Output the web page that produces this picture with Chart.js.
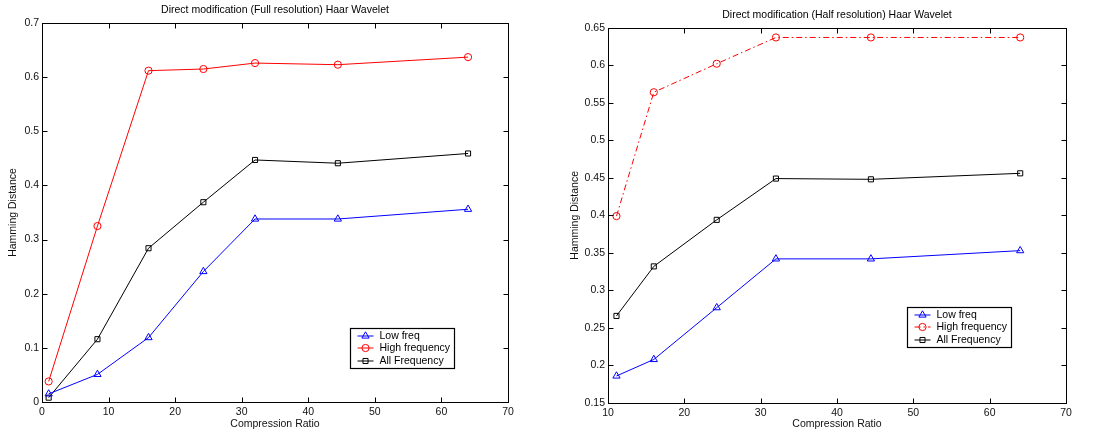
<!DOCTYPE html>
<html><head><meta charset="utf-8">
<script src="https://cdn.jsdelivr.net/npm/chart.js@4/dist/chart.umd.min.js"></script>
<style>
html,body{margin:0;padding:0;background:#fff;overflow:hidden;}
#w1{position:absolute;left:0;top:0;width:545px;height:435px;}
#w2{position:absolute;left:545px;top:0;width:548px;height:435px;}
</style></head><body>
<div id="w1"><canvas id="c1" width="545" height="435"></canvas></div>
<div id="w2"><canvas id="c2" width="548" height="435"></canvas></div>
<script>
// ---- data ----
const fullRatios = [1, 8.33, 16, 24.24, 32, 44.44, 64];
const fullLow  = [0.015, 0.051, 0.119, 0.241, 0.338, 0.338, 0.356];
const fullHigh = [0.038, 0.325, 0.612, 0.615, 0.626, 0.623, 0.637];
const fullAll  = [0.008, 0.116, 0.284, 0.369, 0.447, 0.441, 0.459];

const halfRatios = [11.11, 16, 24.24, 32, 44.44, 64];
const halfLow  = [0.186, 0.208, 0.277, 0.342, 0.342, 0.353];
const halfHigh = [0.399, 0.564, 0.602, 0.637, 0.637, 0.637];
const halfAll  = [0.266, 0.332, 0.394, 0.449, 0.448, 0.456];

const seriesNames = ['Low freq', 'High frequency', 'All Frequency'];
const fullTitle = 'Direct modification (Full resolution) Haar Wavelet';
const halfTitle = 'Direct modification (Half resolution) Haar Wavelet';
const xTitle = 'Compression Ratio';
const yTitle = 'Hamming Distance';

// ---- styles ----
const FONT = "'Liberation Sans', Arial, Helvetica, sans-serif";
const FSIZE = 10.5;
const colors = ['#0000ff', '#ff0000', '#000000'];
const pStyles = ['triangle', 'circle', 'rect'];
const pRadii = [4.2, 3.6, 3.6];

const framePlugin = {
  id: 'frame',
  afterDatasetsDraw(chart, args, opts) {
    const {ctx, chartArea: a, scales: {x, y}} = chart;
    const L = Math.round(a.left) + 0.5, R = Math.round(a.right) + 0.5;
    const T = Math.round(a.top) + 0.5, B = Math.round(a.bottom) + 0.5;
    const tl = 5;
    ctx.save();
    ctx.strokeStyle = '#000';
    ctx.lineWidth = 1;
    ctx.beginPath();
    x.ticks.forEach(t => {
      const px = Math.round(x.getPixelForValue(t.value)) + 0.5;
      ctx.moveTo(px, B); ctx.lineTo(px, B - tl);
      ctx.moveTo(px, T); ctx.lineTo(px, T + tl);
    });
    y.ticks.forEach(t => {
      const py = Math.round(y.getPixelForValue(t.value)) + 0.5;
      ctx.moveTo(L, py); ctx.lineTo(L + tl, py);
      ctx.moveTo(R, py); ctx.lineTo(R - tl, py);
    });
    ctx.stroke();
    ctx.strokeRect(L, T, R - L, B - T);
    ctx.restore();
  },
  afterDraw(chart, args, opts) {
    const {ctx, chartArea: a} = chart;
    const ds = chart.data.datasets;
    ctx.save();
    ctx.font = '10px ' + FONT;
    let tw = 0;
    ds.forEach(d => { tw = Math.max(tw, ctx.measureText(d.label).width); });
    const bw = Math.round(29 + tw + 8), bh = 40;
    const bx = Math.round(a.right - opts.right - bw) + 0.5;
    const by = Math.round(a.bottom - opts.bottom - bh) + 0.5;
    ctx.fillStyle = '#fff';
    ctx.fillRect(bx, by, bw, bh);
    ctx.strokeStyle = '#000';
    ctx.lineWidth = 1.2;
    ctx.strokeRect(bx, by, bw, bh);
    ctx.font = FSIZE + 'px ' + FONT;
    ds.forEach((d, i) => {
      const ry = Math.round(by + 7 + i * 12.5);
      ctx.lineWidth = 1;
      ctx.strokeStyle = d.borderColor;
      ctx.setLineDash(d.borderDash || []);
      ctx.beginPath();
      ctx.moveTo(bx + 7, ry); ctx.lineTo(bx + 23, ry);
      ctx.stroke();
      ctx.setLineDash([]);
      ctx.fillStyle = 'rgba(0,0,0,0)';
      Chart.helpers.drawPoint(ctx, {pointStyle: d.pointStyle, radius: d.pointRadius, rotation: 0, borderWidth: 1}, bx + 15, ry);
      ctx.fillStyle = '#000';
      ctx.textBaseline = 'middle';
      ctx.textAlign = 'left';
      ctx.fillText(d.label, bx + 29, ry + 0.5);
    });
    ctx.restore();
  }
};

function makeChart(id, xs, series, cfg) {
  const datasets = series.map((vals, i) => ({
    label: seriesNames[i],
    data: xs.map((xv, k) => ({x: xv, y: vals[k]})),
    borderColor: colors[i],
    pointBorderColor: colors[i],
    backgroundColor: 'rgba(0,0,0,0)',
    pointBackgroundColor: 'rgba(0,0,0,0)',
    borderWidth: 1,
    pointBorderWidth: 1,
    pointStyle: pStyles[i],
    pointRadius: pRadii[i],
    borderDash: (cfg.dashes && cfg.dashes[i]) || [],
    tension: 0,
    fill: false
  }));
  const f = {family: FONT, size: FSIZE, weight: 'normal'};
  return new Chart(document.getElementById(id), {
    type: 'line',
    data: {datasets},
    plugins: [framePlugin],
    options: {
      responsive: false,
      animation: false,
      devicePixelRatio: 1,
      layout: {padding: {left: 0, right: cfg.padRight, top: 0, bottom: 0}},
      plugins: {
        legend: {display: false},
        tooltip: {enabled: false},
        title: {display: true, text: cfg.title, fullSize: false, color: '#000', font: f,
                padding: {top: cfg.titleTop, bottom: cfg.titleBottom}},
        frame: {right: cfg.legRight, bottom: cfg.legBottom}
      },
      scales: {
        x: {
          type: 'linear', min: cfg.xmin, max: cfg.xmax,
          grid: {display: false, drawTicks: false}, border: {display: false},
          ticks: {stepSize: 10, padding: 4, color: '#111', font: f, autoSkip: false, maxRotation: 0,
                  callback: v => String(Math.round(v))},
          title: {display: true, text: xTitle, color: '#111', font: f, padding: {top: 0, bottom: 4.7}},
          afterFit: s => { s.height = cfg.xh; }
        },
        y: {
          type: 'linear', min: cfg.ymin, max: cfg.ymax,
          grid: {display: false, drawTicks: false}, border: {display: false},
          ticks: {stepSize: cfg.ystep, padding: 3, color: '#111', font: f, autoSkip: false,
                  callback: v => String(Math.round(v * 100) / 100)},
          title: {display: true, text: yTitle, color: '#111', font: f, padding: {top: cfg.yTitlePad, bottom: 0}},
          afterFit: s => { s.width = cfg.yw; }
        }
      }
    }
  });
}

makeChart('c1', fullRatios, [fullLow, fullHigh, fullAll], {
  title: fullTitle, xmin: 0, xmax: 70, ymin: 0, ymax: 0.7, ystep: 0.1,
  padRight: 37, titleTop: 3.7, titleBottom: 6.7, xh: 33, yw: 42, yTitlePad: 6.7,
  legRight: 54, legBottom: 34
});

makeChart('c2', halfRatios, [halfLow, halfHigh, halfAll], {
  title: halfTitle, xmin: 10, xmax: 70, ymin: 0.15, ymax: 0.65, ystep: 0.05,
  padRight: 27, titleTop: 8.7, titleBottom: 6.4, xh: 32, yw: 63, yTitlePad: 23.7,
  legRight: 55, legBottom: 56, dashes: [[], [6, 3, 1.5, 3], []]
});
</script>
</body></html>
